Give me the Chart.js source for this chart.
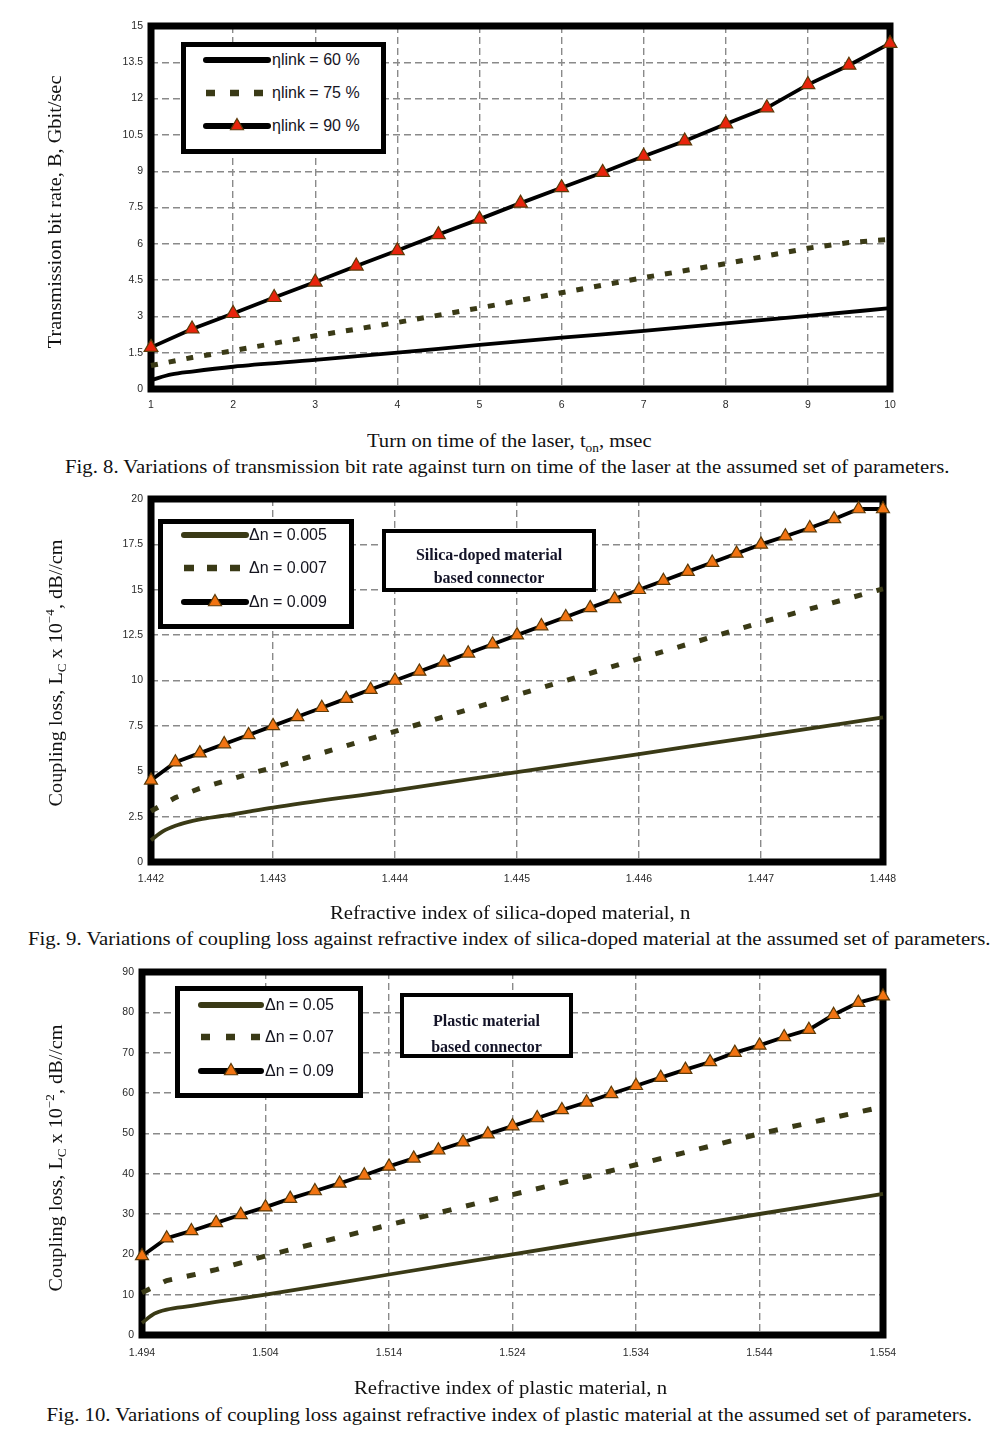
<!DOCTYPE html>
<html><head><meta charset="utf-8">
<script src="https://cdn.jsdelivr.net/npm/chart.js@4.4.1/dist/chart.umd.min.js"></script>
<style>
html,body{margin:0;padding:0;background:#fff;}
#page{position:relative;width:1002px;height:1444px;overflow:hidden;background:#fff;}
canvas{position:absolute;left:0;}
.t{position:absolute;white-space:nowrap;font-family:"Liberation Serif","Times New Roman",serif;color:#111;line-height:1.15;transform-origin:center center;}
.box{position:absolute;border:5px solid #000;background:#fff;box-sizing:border-box;}
.lgtext{position:absolute;font-family:"Liberation Sans",Arial,sans-serif;font-size:16px;color:#15151f;white-space:nowrap;line-height:1;}
.ann{position:absolute;border:4px solid #000;background:#fff;box-sizing:border-box;overflow:hidden;}
.ann div{position:absolute;left:0;right:0;text-align:center;font-family:"Liberation Serif","Times New Roman",serif;font-weight:bold;font-size:16px;color:#141428;white-space:nowrap;line-height:1;}
sub,sup{font-size:0.65em;line-height:0;}
</style></head><body><div id="page">
<canvas id="c1" width="1002" height="425" style="top:0px"></canvas>
<canvas id="c2" width="1002" height="425" style="top:480px"></canvas>
<canvas id="c3" width="1002" height="425" style="top:955px"></canvas>
</div>
<script>
// ---------------- Fig. 8 data ----------------
const fig8XTicks = [1,2,3,4,5,6,7,8,9,10];
const fig8XLabels = ['1','2','3','4','5','6','7','8','9','10'];
const fig8YTicks = [0,1.5,3,4.5,6,7.5,9,10.5,12,13.5,15];
const fig8YLabels = ['0','1.5','3','4.5','6','7.5','9','10.5','12','13.5','15'];
const fig8Names = ['ηlink = 60 %','ηlink = 75 %','ηlink = 90 %'];
const t60 = [1,1.25,1.5,2,3,4,5,6,7,8,9,10];
const b60 = [0.37,0.6,0.72,0.92,1.2,1.5,1.82,2.12,2.4,2.71,3.02,3.34];
const t75 = [1,1.5,2,3,4,5,6,7,8,9,9.5,10];
const b75 = [0.97,1.3,1.58,2.2,2.75,3.35,3.98,4.6,5.18,5.82,6.05,6.18];
const t90 = [1,1.5,2,2.5,3,3.5,4,4.5,5,5.5,6,6.5,7,7.5,8,8.5,9,9.5,10];
const b90 = [1.72,2.48,3.12,3.78,4.42,5.08,5.72,6.38,7.02,7.68,8.32,8.95,9.62,10.25,10.95,11.62,12.58,13.38,14.28];

// ---------------- Fig. 9 data ----------------
const fig9XTicks = [1.442,1.443,1.444,1.445,1.446,1.447,1.448];
const fig9XLabels = ['1.442','1.443','1.444','1.445','1.446','1.447','1.448'];
const fig9YTicks = [0,2.5,5,7.5,10,12.5,15,17.5,20];
const fig9YLabels = ['0','2.5','5','7.5','10','12.5','15','17.5','20'];
const fig9Names = ['Δn = 0.005','Δn = 0.007','Δn = 0.009'];
const n005 = [1.442,1.4421,1.4422,1.4423,1.4424,1.4426,1.4428,1.443,1.444,1.445,1.446,1.447,1.448];
const l005 = [1.2,1.7,2.0,2.2,2.35,2.55,2.78,3.0,3.95,4.95,5.95,6.95,7.97];
const n007 = [1.442,1.4422,1.4424,1.4426,1.4428,1.443,1.444,1.445,1.446,1.447,1.448];
const l007 = [2.8,3.55,4.05,4.45,4.85,5.2,7.2,9.2,11.2,13.2,15.05];
const n009 = [1.442,1.4422,1.4424,1.4426,1.4428,1.443,1.4432,1.4434,1.4436,1.4438,1.444,1.4442,1.4444,1.4446,1.4448,1.445,1.4452,1.4454,1.4456,1.4458,1.446,1.4462,1.4464,1.4466,1.4468,1.447,1.4472,1.4474,1.4476,1.4478,1.448];
const l009 = [4.5,5.5,6.0,6.5,7.0,7.5,8.0,8.5,9.0,9.5,10.0,10.5,11.0,11.5,12.0,12.5,13.0,13.5,14.0,14.5,15.0,15.5,16.0,16.5,17.0,17.5,17.95,18.4,18.9,19.45,19.45];

// ---------------- Fig. 10 data ----------------
const fig10XTicks = [1.494,1.504,1.514,1.524,1.534,1.544,1.554];
const fig10XLabels = ['1.494','1.504','1.514','1.524','1.534','1.544','1.554'];
const fig10YTicks = [0,10,20,30,40,50,60,70,80,90];
const fig10YLabels = ['0','10','20','30','40','50','60','70','80','90'];
const fig10Names = ['Δn = 0.05','Δn = 0.07','Δn = 0.09'];
const p005 = [1.494,1.495,1.496,1.498,1.500,1.504,1.514,1.524,1.534,1.544,1.554];
const q005 = [3.0,5.3,6.3,7.2,8.2,10.0,15.0,20.0,25.0,30.0,35.0];
const p007 = [1.494,1.496,1.498,1.500,1.502,1.504,1.514,1.524,1.534,1.544,1.554];
const q007 = [10.5,13.5,14.8,16.2,17.9,19.6,27.3,34.8,42.2,49.9,56.6];
const p009 = [1.494,1.496,1.498,1.500,1.502,1.504,1.506,1.508,1.510,1.512,1.514,1.516,1.518,1.520,1.522,1.524,1.526,1.528,1.530,1.532,1.534,1.536,1.538,1.540,1.542,1.544,1.546,1.548,1.550,1.552,1.554];
const q009 = [19.6,24.0,25.8,27.8,29.8,31.7,33.8,35.7,37.6,39.6,41.8,43.8,45.8,47.8,49.8,51.8,53.8,55.8,57.7,59.8,61.8,63.8,65.8,67.7,70.0,71.8,73.9,75.7,79.4,82.4,84.0];

// ---------------- helpers ----------------
const OLIVE = '#3a3a16';
function pts(xs, ys){ return xs.map((x,i)=>({x:x, y:ys[i]})); }

const framePlugin = {
  id:'frame',
  beforeDatasetsDraw(chart){
    const {ctx, chartArea:a} = chart;
    ctx.save();
    ctx.lineWidth = 7; ctx.strokeStyle = '#000'; ctx.lineJoin = 'miter';
    ctx.strokeRect(a.left, a.top, a.right-a.left, a.bottom-a.top);
    ctx.restore();
  }
};

function solid(name, xs, ys, color, smooth){
  return {label:name, data:pts(xs,ys), borderColor:color, borderWidth:3.8, pointRadius:0,
    cubicInterpolationMode: smooth ? 'monotone' : 'default', tension:0, clip:false};
}
function dashed(name, xs, ys, dash){
  return {label:name, data:pts(xs,ys), borderColor:OLIVE, borderWidth:5, borderDash:dash,
    pointRadius:0, tension:0, clip:false, borderCapStyle:'butt'};
}
function marked(name, xs, ys, fill, r){
  return {label:name, data:pts(xs,ys), borderColor:'#000', borderWidth:3.8, tension:0,
    pointStyle:'triangle', pointRadius:r, pointBackgroundColor:fill, pointBorderColor:'#5b3a08',
    pointBorderWidth:1.2, clip:false};
}

function makeChart(id, cfg){
  const cv = document.getElementById(id);
  const H = cv.height;
  const tickFont = {family:'"Liberation Sans", Arial, sans-serif', size:10.5};
  return new Chart(cv, {
    type:'line',
    data:{datasets:cfg.datasets},
    options:{
      responsive:false, animation:false, events:[],
      layout:{padding:{left:0, top:cfg.area.top, right:1002-cfg.area.right, bottom:0}},
      plugins:{legend:{display:false}, tooltip:{enabled:false}},
      scales:{
        x:{type:'linear', min:cfg.xMin, max:cfg.xMax,
          afterBuildTicks:s=>{ s.ticks = cfg.xTicks.map(v=>({value:v})); },
          afterFit:s=>{ s.height = H - cfg.area.bottom; },
          grid:{color:'#8a8a8a', lineWidth:1.4, drawTicks:false},
          border:{display:false, dash:[7,4]},
          ticks:{padding:cfg.xPad, autoSkip:false, maxRotation:0, minRotation:0, color:'#2a2a2a', font:tickFont,
            callback:(v,i)=>cfg.xLabels[i]}},
        y:{type:'linear', min:cfg.yMin, max:cfg.yMax,
          afterBuildTicks:s=>{ s.ticks = cfg.yTicks.map(v=>({value:v})); },
          afterFit:s=>{ s.width = cfg.area.left; },
          grid:{color:'#8a8a8a', lineWidth:1.4, drawTicks:false},
          border:{display:false, dash:[7,4]},
          ticks:{padding:8, autoSkip:false, color:'#2a2a2a', font:tickFont,
            callback:(v,i)=>cfg.yLabels[i]}}
      }
    },
    plugins:[framePlugin]
  });
}

// ---------------- charts ----------------
makeChart('c1', {
  area:{left:151, top:26, right:890, bottom:389}, xPad:10,
  xMin:1, xMax:10, yMin:0, yMax:15,
  xTicks:fig8XTicks, xLabels:fig8XLabels, yTicks:fig8YTicks, yLabels:fig8YLabels,
  datasets:[
    solid(fig8Names[0], t60, b60, '#000', true),
    dashed(fig8Names[1], t75, b75, [7,11]),
    marked(fig8Names[2], t90, b90, '#e8240c', 8)
  ]
});
makeChart('c2', {
  area:{left:151, top:19, right:883, bottom:382}, xPad:11,
  xMin:1.442, xMax:1.448, yMin:0, yMax:20,
  xTicks:fig9XTicks, xLabels:fig9XLabels, yTicks:fig9YTicks, yLabels:fig9YLabels,
  datasets:[
    solid(fig9Names[0], n005, l005, OLIVE, true),
    dashed(fig9Names[1], n007, l007, [8,15]),
    marked(fig9Names[2], n009, l009, '#f27412', 7.5)
  ]
});
makeChart('c3', {
  area:{left:142, top:17, right:883, bottom:380}, xPad:12,
  xMin:1.494, xMax:1.554, yMin:0, yMax:90,
  xTicks:fig10XTicks, xLabels:fig10XLabels, yTicks:fig10YTicks, yLabels:fig10YLabels,
  datasets:[
    solid(fig10Names[0], p005, q005, OLIVE, true),
    dashed(fig10Names[1], p007, q007, [9,15]),
    marked(fig10Names[2], p009, q009, '#f27412', 7.5)
  ]
});

// ---------------- text ----------------
const page = document.getElementById('page');
function addText(html, cx, cy, w, size, rot){
  const d = document.createElement('div');
  d.className = 't'; d.innerHTML = html; d.style.fontSize = size + 'px';
  page.appendChild(d);
  const w0 = d.offsetWidth, h0 = d.offsetHeight;
  d.style.left = (cx - w0/2) + 'px'; d.style.top = (cy - h0/2) + 'px';
  d.style.transform = (rot ? 'rotate(-90deg) ' : '') + 'scaleX(' + (w/w0) + ')';
}
addText('Transmission bit rate, B, Gbit/sec', 55, 212, 273, 19, true);
addText('Turn on time of the laser, t<sub>on</sub>, msec', 509, 441, 285, 19, false);
addText('Fig. 8. Variations of transmission bit rate against turn on time of the laser at the assumed set of parameters.', 507, 467, 885, 18, false);
addText('Coupling loss, L<sub>C</sub> x 10<sup>−4</sup>, dB//cm', 55, 673, 267, 19, true);
addText('Refractive index of silica-doped material, n', 510, 913, 360, 19, false);
addText('Fig. 9. Variations of coupling loss against refractive index of silica-doped material at the assumed set of parameters.', 509, 939, 962, 18, false);
addText('Coupling loss, L<sub>C</sub> x 10<sup>−2</sup>, dB//cm', 55, 1158, 267, 19, true);
addText('Refractive index of plastic material, n', 510, 1388, 313, 19, false);
addText('Fig. 10. Variations of coupling loss against refractive index of plastic material at the assumed set of parameters.', 509, 1415, 925, 18, false);

// ---------------- legends ----------------
const NS = 'http://www.w3.org/2000/svg';
function addLegend(box, x0, x1, tx, rows, names, styles){
  const b = document.createElement('div');
  b.className = 'box';
  Object.assign(b.style, {left:box[0]+'px', top:box[1]+'px', width:box[2]+'px', height:box[3]+'px'});
  page.appendChild(b);
  const svg = document.createElementNS(NS, 'svg');
  svg.setAttribute('width', 1002); svg.setAttribute('height', 1444);
  Object.assign(svg.style, {position:'absolute', left:'0px', top:'0px'});
  rows.forEach((cy, i)=>{
    const st = styles[i];
    const ln = document.createElementNS(NS, 'line');
    ln.setAttribute('x1', x0); ln.setAttribute('x2', x1); ln.setAttribute('y1', cy); ln.setAttribute('y2', cy);
    ln.setAttribute('stroke', st.color);
    if (st.dash){ ln.setAttribute('stroke-width', 6.5); ln.setAttribute('stroke-dasharray', st.dash); }
    else { ln.setAttribute('stroke-width', 6); ln.setAttribute('stroke-linecap', 'round'); }
    svg.appendChild(ln);
    if (st.tri){
      const m = (x0+x1)/2, r = 7.5;
      const p = document.createElementNS(NS, 'polygon');
      p.setAttribute('points', [m+','+(cy-r), (m+0.866*r)+','+(cy+0.5*r), (m-0.866*r)+','+(cy+0.5*r)].join(' '));
      p.setAttribute('fill', st.tri); p.setAttribute('stroke', '#5b3a08'); p.setAttribute('stroke-width', 1.2);
      svg.appendChild(p);
    }
    const t = document.createElement('div');
    t.className = 'lgtext'; t.textContent = names[i];
    t.style.left = tx + 'px'; t.style.top = (cy - 8.5) + 'px';
    page.appendChild(t);
  });
  page.appendChild(svg);
}
addLegend([181,42,205,112], 206, 268, 272, [60,93,126], fig8Names,
  [{color:'#000'}, {color:OLIVE, dash:'9 15'}, {color:'#000', tri:'#e8240c'}]);
addLegend([158,519,196,110], 184, 246, 249, [535,568,602], fig9Names,
  [{color:OLIVE}, {color:OLIVE, dash:'10 13'}, {color:'#000', tri:'#f27412'}]);
addLegend([175,986,188,112], 201, 261, 265, [1005,1037,1071], fig10Names,
  [{color:OLIVE}, {color:OLIVE, dash:'9 16'}, {color:'#000', tri:'#f27412'}]);

function addAnn(box, lines, lineTops){
  const b = document.createElement('div');
  b.className = 'ann';
  Object.assign(b.style, {left:box[0]+'px', top:box[1]+'px', width:box[2]+'px', height:box[3]+'px'});
  lines.forEach((s,i)=>{
    const d = document.createElement('div');
    d.textContent = s; d.style.top = lineTops[i] + 'px';
    b.appendChild(d);
  });
  page.appendChild(b);
}
addAnn([382,529,214,63], ['Silica-doped material','based connector'], [14,37]);
addAnn([400,993,173,65], ['Plastic material','based connector'], [16,42]);
</script>
</body></html>
